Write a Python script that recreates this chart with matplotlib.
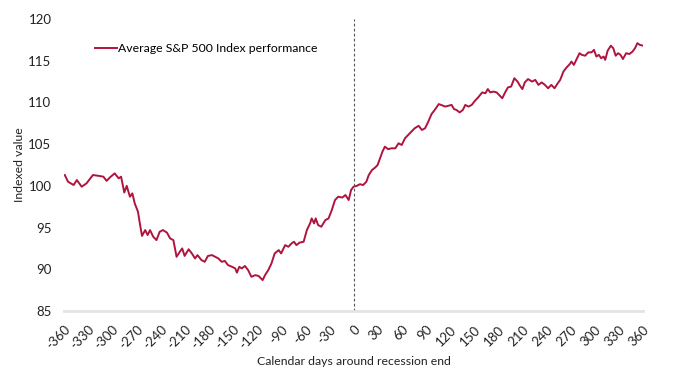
import numpy as np
import matplotlib
matplotlib.use('Agg')
import matplotlib.pyplot as plt

plt.rcParams['font.family'] = ['Lato', 'DejaVu Sans']

# calendar days around recession end, and average indexed S&P 500 value
days = [-359, -355, -348, -344, -338, -332, -324, -317, -311, -307, -303, -297, -292, -289,
        -285, -282, -278, -275, -272, -268, -266, -263, -259, -256, -253, -249, -245, -241,
        -237, -232, -228, -224, -220, -216, -213, -210, -205, -201, -197, -194, -189, -185,
        -181, -176, -172, -168, -164, -160, -156, -151, -147, -145, -142, -139, -135, -131,
        -127, -122, -118, -113, -110, -106, -102, -98, -93, -90, -85, -81, -77, -74, -71,
        -67, -62, -58, -54, -52, -49, -47, -44, -40, -35, -31, -27, -23, -19, -14, -10, -6,
        -3, 0, 4, 8, 12, 16, 19, 23, 27, 30, 33, 36, 39, 43, 47, 52, 56, 60, 64, 68, 72,
        76, 81, 85, 89, 93, 97, 101, 106, 109, 114, 118, 122, 125, 128, 132, 136, 139, 143,
        147, 151, 155, 160, 164, 167, 170, 174, 178, 182, 185, 188, 192, 196, 200, 204, 207,
        210, 213, 217, 222, 226, 230, 234, 238, 242, 246, 250, 254, 257, 261, 265, 269, 271,
        274, 277, 281, 284, 288, 292, 296, 299, 302, 305, 308, 311, 313, 316, 320, 323, 326,
        329, 332, 335, 339, 343, 347, 350, 353, 356, 360]
values = [101.3, 100.5, 100.1, 100.7, 99.9, 100.3, 101.3, 101.2, 101.1, 100.6, 101.0, 101.5,
          100.9, 101.1, 99.2, 100.0, 98.7, 99.1, 97.9, 96.9, 95.7, 94.0, 94.7, 94.1, 94.7,
          93.9, 93.5, 94.5, 94.7, 94.4, 93.7, 93.5, 91.5, 92.1, 92.5, 91.6, 92.4, 91.9, 91.3,
          91.7, 91.1, 90.9, 91.6, 91.7, 91.5, 91.3, 90.9, 91.0, 90.5, 90.3, 90.1, 89.6, 90.3,
          90.1, 90.4, 89.9, 89.1, 89.3, 89.2, 88.7, 89.3, 89.9, 90.7, 91.9, 92.3, 91.9, 92.9,
          92.7, 93.1, 93.3, 92.9, 93.2, 93.3, 94.7, 95.5, 96.1, 95.5, 96.1, 95.3, 95.1, 95.9,
          96.1, 97.1, 98.3, 98.7, 98.6, 98.9, 98.3, 99.5, 99.9, 100.0, 100.2, 100.1, 100.5,
          101.3, 101.9, 102.2, 102.5, 103.3, 104.1, 104.7, 104.4, 104.5, 104.5, 105.1, 104.9,
          105.7, 106.1, 106.5, 106.9, 107.2, 106.7, 106.9, 107.7, 108.6, 109.1, 109.8, 109.7,
          109.5, 109.6, 109.7, 109.2, 109.1, 108.8, 109.1, 109.7, 109.5, 109.7, 110.2, 110.6,
          111.2, 111.1, 111.6, 111.2, 111.3, 111.2, 110.8, 110.5, 111.1, 111.8, 111.9, 112.9,
          112.5, 112.0, 111.6, 112.4, 112.8, 112.5, 112.7, 112.1, 112.4, 112.1, 111.7, 112.1,
          111.7, 112.3, 112.7, 113.7, 114.2, 114.6, 114.9, 114.5, 115.1, 115.9, 115.7, 115.6,
          116.0, 116.0, 116.3, 115.5, 115.7, 115.3, 115.5, 115.1, 116.2, 116.8, 116.5, 115.6,
          115.9, 115.7, 115.2, 115.9, 115.8, 116.1, 116.5, 117.1, 116.9, 116.8]

xticks = list(range(-360, 361, 30))
yticks = [85, 90, 95, 100, 105, 110, 115, 120]
line_color = '#B0143E'

fig = plt.figure(figsize=(7, 3.71), dpi=100)
ax = fig.add_axes([0.0914, 0.1617, 0.8272, 0.7871])

ax.plot(days, values, color=line_color, lw=1.4, label='Average S&P 500 Index performance')
ax.axvline(0, color='#555555', lw=0.8, ls=(0, (2.5, 2)))

ax.set_xlim(-360, 360)
ax.set_ylim(85, 120)
ax.set_xticks(xticks)
ax.set_xticklabels([str(t) for t in xticks], rotation=45, ha='right', va='top',
                   rotation_mode='anchor')
ax.set_yticks(yticks)
ax.tick_params(axis='both', length=0, labelsize=9.5, colors='#222222')
ax.tick_params(axis='x', pad=9)
ax.tick_params(axis='y', pad=9)

for s in ['top', 'right', 'left']:
    ax.spines[s].set_visible(False)
ax.spines['bottom'].set_color('#e3e3e3')
ax.spines['bottom'].set_linewidth(2)

ax.set_xlabel('Calendar days around recession end', fontsize=8.8, color='#222222', labelpad=3)
ax.set_ylabel('Indexed value', fontsize=8.8, color='#222222', labelpad=2)

ax.legend(loc='upper left', bbox_to_anchor=(0.035, 0.955), frameon=False, fontsize=8.8,
          handlelength=1.8, handletextpad=0.1)

fig.savefig('out.png', dpi=100)
